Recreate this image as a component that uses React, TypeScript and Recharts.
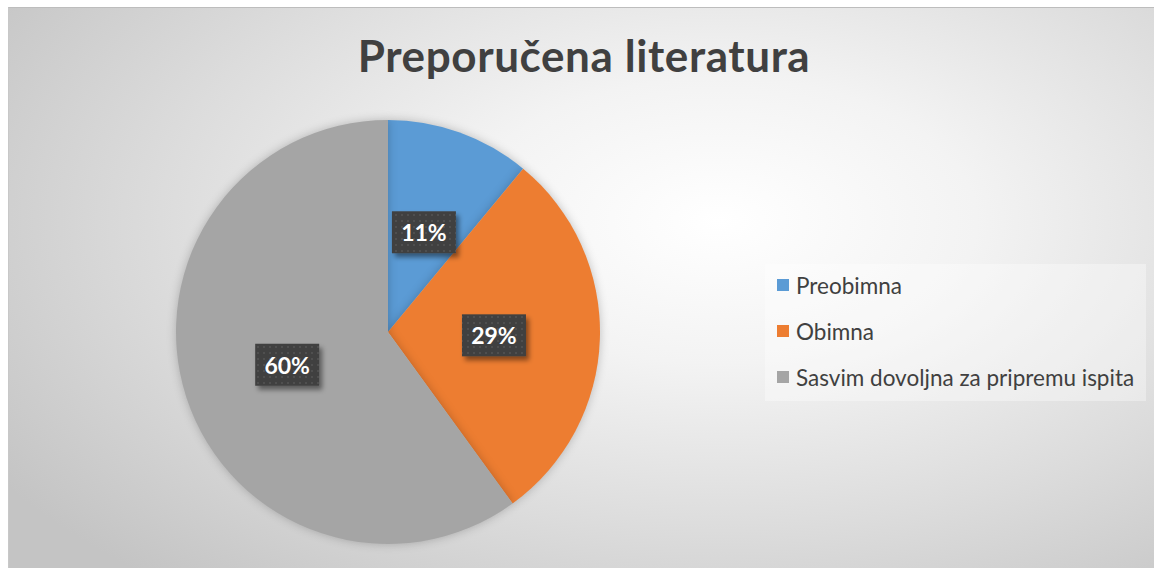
import React from "react";
import { PieChart, Pie, Cell, Legend } from "recharts";

const categories = ["Preobimna", "Obimna", "Sasvim dovoljna za pripremu ispita"];
const values = [11, 29, 60];
const colors = ["#5B9BD5", "#ED7D31", "#A5A5A5"];
const title = "Preporučena literatura";

const data = categories.map((name, i) => ({ name, value: values[i] }));

const W = 1146;
const H = 561;
const FONT = "Lato, 'Open Sans', sans-serif";
const RAD = Math.PI / 180;

const renderLabel = (props: any) => {
  const { cx, cy, midAngle, outerRadius, percent } = props;
  const r = outerRadius * 0.5;
  const x = cx + r * Math.cos(-midAngle * RAD);
  const y = cy + r * Math.sin(-midAngle * RAD);
  const bw = 64;
  const bh = 42;
  return (
    <g>
      <rect x={x - bw / 2} y={y - bh / 2} width={bw} height={bh} fill="url(#dotPattern)" filter="url(#boxShadow)" />
      <text x={x} y={y} textAnchor="middle" dominantBaseline="central" fill="#ffffff" fontFamily={FONT} fontWeight={700} fontSize={23}>
        {`${Math.round(percent * 100)}%`}
      </text>
    </g>
  );
};

const renderLegend = () => (
  <div
    style={{
      background: "rgba(255,255,255,0.35)",
      width: 381,
      height: 137,
      boxSizing: "border-box",
      paddingLeft: 12,
      fontFamily: FONT,
    }}
  >
    <div style={{ position: "relative", top: -2 }}>
      {categories.map((c, i) => (
        <div key={c} style={{ display: "flex", alignItems: "center", height: 46, fontSize: 22.5, color: "#404040" }}>
          <span style={{ display: "inline-block", width: 12, height: 12, background: colors[i], marginRight: 7 }} />
          <span>{c}</span>
        </div>
      ))}
    </div>
  </div>
);

export default function App() {
  return (
    <div style={{ width: 1154, height: 568, position: "relative", background: "#ffffff", overflow: "hidden" }}>
      <style>{`html,body{margin:0;padding:0;overflow:hidden}.recharts-pie-sector{filter:drop-shadow(0 0 5px rgba(0,0,0,0.22));}`}</style>
      <div
        style={{
          position: "absolute",
          left: 8,
          top: 7,
          width: W,
          height: H,
          borderTop: "1px solid #bdbdbd",
          borderLeft: "1px solid #c8c8c8",
          boxSizing: "border-box",
          background: "radial-gradient(ellipse 75% 85% at 62% 38%, #ffffff 0%, #f3f3f3 30%, #dcdcdc 65%, #c4c4c4 100%)",
          overflow: "hidden",
        }}
      >
        <div
          style={{
            position: "absolute",
            top: 21,
            left: 0,
            width: 1150,
            textAlign: "center",
            fontFamily: FONT,
            fontWeight: 700,
            fontSize: 44,
            letterSpacing: 0.6,
            color: "#404040",
            zIndex: 2,
          }}
        >
          {title}
        </div>
        <PieChart width={W} height={H} margin={{ top: 0, right: 0, bottom: 0, left: 0 }} style={{ position: "absolute", left: 0, top: 0 }}>
          <defs>
            <pattern id="dotPattern" width="6" height="6" patternUnits="userSpaceOnUse">
              <rect width="6" height="6" fill="#404040" />
              <rect x="2" y="2" width="2" height="2" fill="#505050" />
            </pattern>
            <filter id="boxShadow" x="-20%" y="-20%" width="150%" height="160%">
              <feDropShadow dx="3" dy="4" stdDeviation="2.5" floodColor="#000" floodOpacity="0.45" />
            </filter>
          </defs>
          <Pie
            data={data}
            dataKey="value"
            nameKey="name"
            cx={379}
            cy={324}
            outerRadius={212}
            startAngle={90}
            endAngle={-270}
            stroke="none"
            label={renderLabel}
            labelLine={false}
            isAnimationActive={false}
          >
            {data.map((d, i) => (
              <Cell key={d.name} fill={colors[i]} />
            ))}
          </Pie>
          <Legend
            layout="vertical"
            align="right"
            verticalAlign="top"
            content={renderLegend}
            wrapperStyle={{ left: 756, top: 256, width: 381 }}
          />
        </PieChart>
      </div>
    </div>
  );
}
